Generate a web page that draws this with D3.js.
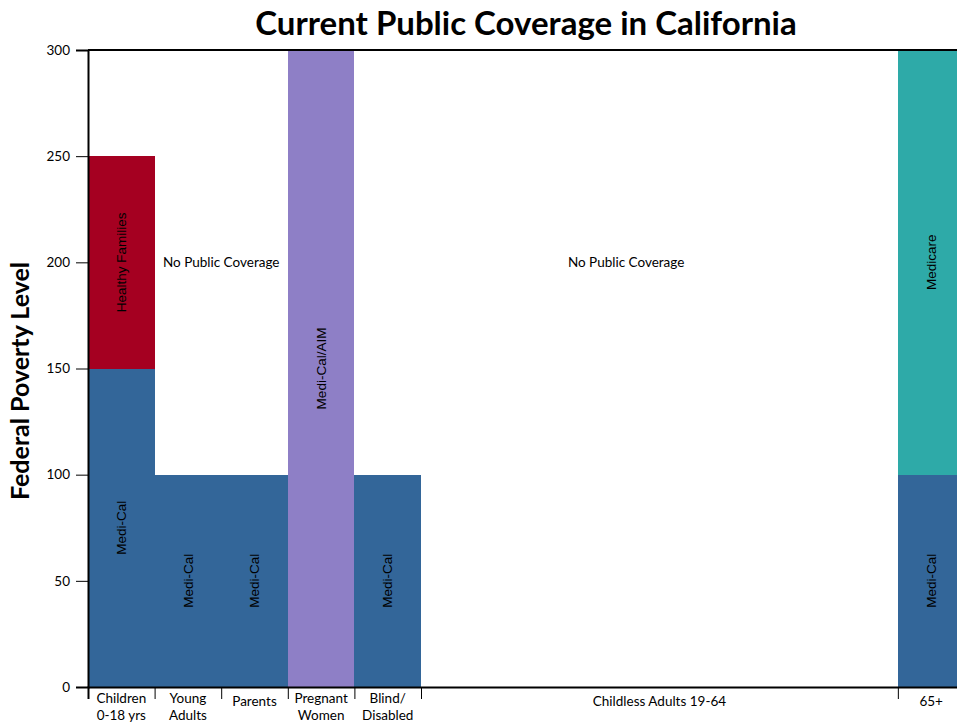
<!DOCTYPE html>
<html>
<head>
<meta charset="utf-8">
<script src="https://cdn.jsdelivr.net/npm/d3@7"></script>
<style>
  body { margin: 0; background: #fff; }
  svg { display: block; }
</style>
</head>
<body>
<div id="chart"></div>
<script>
 //Data
 var groups = ["Children|0-18 yrs", "Young|Adults", "Parents", "Pregnant|Women", "Blind/|Disabled", "Childless Adults 19-64", "65+"];
 var groupWidths = [1, 1, 1, 1, 1, 7.16, 1];

 // coverage segments (group index, lower FPL, upper FPL, program)
 var segGroup = [0, 0, 1, 2, 3, 4, 6, 6];
 var segLow = [0, 150, 0, 0, 0, 0, 0, 100];
 var segHigh = [150, 250, 100, 100, 300, 100, 100, 300];
 var segProgram = ["Medi-Cal", "Healthy Families", "Medi-Cal", "Medi-Cal", "Medi-Cal/AIM", "Medi-Cal", "Medi-Cal", "Medicare"];

 // "No Public Coverage" notes (first group, last group, FPL level)
 var gapFirst = [1, 4];
 var gapLast = [2, 5];
 var gapLevel = [200, 200];

 var yTicks = [0, 50, 100, 150, 200, 250, 300];

 var colors = {
     "Medi-Cal": "#336699",
     "Healthy Families": "#a50021",
     "Medi-Cal/AIM": "#8e7fc6",
     "Medicare": "#2eaaa8"
 };

 //Margins and dimensions
 var margin = { top: 50, right: 0, bottom: 39, left: 88 },
     width = 957 - margin.left - margin.right,
     height = 726 - margin.top - margin.bottom;

 var svg = d3.select("#chart")
     .append("svg")
     .attr("width", 957)
     .attr("height", 726)
     .append("g")
     .attr("transform", "translate(" + margin.left + "," + margin.top + ")");

 // cumulative group edges
 var edges = [0];
 groupWidths.forEach(function (w, i) { edges.push(edges[i] + w); });
 var unitPx = 66.6;

 var x = d3.scaleLinear()
     .domain([0, edges[edges.length - 1]])
     .range([0, unitPx * edges[edges.length - 1]]);

 var y = d3.scaleLinear()
     .domain([0, 300])
     .range([height, 0]);

 var segs = segGroup.map(function (g, i) {
     return { g: g, lo: segLow[i], hi: segHigh[i], p: segProgram[i] };
 });

 //Bars
 svg.selectAll("rect.seg")
     .data(segs)
     .enter()
     .append("rect")
     .attr("class", "seg")
     .attr("x", function (d) { return Math.round(x(edges[d.g])); })
     .attr("width", function (d) { return Math.round(x(edges[d.g + 1])) - Math.round(x(edges[d.g])); })
     .attr("y", function (d) { return Math.round(y(d.hi)); })
     .attr("height", function (d) { return Math.round(y(d.lo)) - Math.round(y(d.hi)); })
     .attr("shape-rendering", "crispEdges")
     .style("fill", function (d) { return colors[d.p]; });

 //Segment labels
 svg.selectAll("text.seglab")
     .data(segs)
     .enter()
     .append("text")
     .attr("class", "seglab")
     .attr("transform", function (d) {
         var cx = x((edges[d.g] + edges[d.g + 1]) / 2);
         var cy = y((d.lo + d.hi) / 2);
         return "translate(" + cx + "," + cy + ") rotate(-90)";
     })
     .attr("text-anchor", "middle")
     .attr("dy", "0.35em")
     .style("font-family", "'Liberation Sans', Arial, sans-serif")
     .style("font-size", "13.5px")
     .style("fill", "#000")
     .text(function (d) { return d.p; });

 //No coverage labels
 svg.selectAll("text.gap")
     .data(gapFirst)
     .enter()
     .append("text")
     .attr("class", "gap")
     .attr("x", function (d, i) { return x((edges[d] + edges[gapLast[i] + 1]) / 2); })
     .attr("y", function (d, i) { return y(gapLevel[i]); })
     .attr("dy", "0.35em")
     .attr("text-anchor", "middle")
     .style("font-family", "Lato, 'Open Sans', sans-serif")
     .style("font-size", "13.5px")
     .text("No Public Coverage");

 //Y axis
 var yAxis = svg.append("g")
     .call(d3.axisLeft(y).tickValues(yTicks).tickSize(12).tickPadding(6));
 yAxis.select(".domain").attr("stroke-width", 2);
 yAxis.selectAll("text")
     .style("font-family", "Lato, 'Open Sans', sans-serif")
     .style("font-size", "13.5px")
     .attr("fill", "#000");

 //Top border
 svg.append("line")
     .attr("x1", 0).attr("x2", width)
     .attr("y1", 0).attr("y2", 0)
     .attr("stroke", "#000")
     .attr("stroke-width", 2);

 //X axis
 var xAxis = svg.append("g")
     .attr("transform", "translate(0," + height + ")")
     .call(d3.axisBottom(x).tickValues(edges).tickSize(12).tickFormat(""));
 xAxis.select(".domain").attr("stroke-width", 2);

 //X labels
 var xl = svg.selectAll("text.xlab")
     .data(groups)
     .enter()
     .append("text")
     .attr("class", "xlab")
     .attr("text-anchor", "middle")
     .style("font-family", "Lato, 'Open Sans', sans-serif")
     .style("font-size", "13.5px")
     .attr("transform", function (d, i) {
         return "translate(" + x((edges[i] + edges[i + 1]) / 2) + "," + height + ")";
     });
 xl.each(function (d) {
     var lines = d.split("|");
     var t = d3.select(this);
     lines.forEach(function (l, k) {
         var yy = lines.length === 1 ? 14 : 11 + k * 17;
         t.append("tspan").attr("x", 0).attr("y", yy).attr("dy", "0.35em").text(l);
     });
 });

 //Title
 svg.append("text")
     .attr("x", 526 - margin.left)
     .attr("y", -27)
     .attr("dy", "0.35em")
     .attr("text-anchor", "middle")
     .style("font-family", "Lato, 'Open Sans', sans-serif")
     .style("font-weight", "bold")
     .style("font-size", "33px")
     .text("Current Public Coverage in California");

 //Y-Axis Label
 svg.append("text")
     .attr("transform", "rotate(-90)")
     .attr("x", -(381 - margin.top))
     .attr("y", -68)
     .attr("dy", "0.35em")
     .style("text-anchor", "middle")
     .style("font-family", "Lato, 'Open Sans', sans-serif")
     .style("font-weight", "bold")
     .style("font-size", "25px")
     .text("Federal Poverty Level");
</script>
</body>
</html>
